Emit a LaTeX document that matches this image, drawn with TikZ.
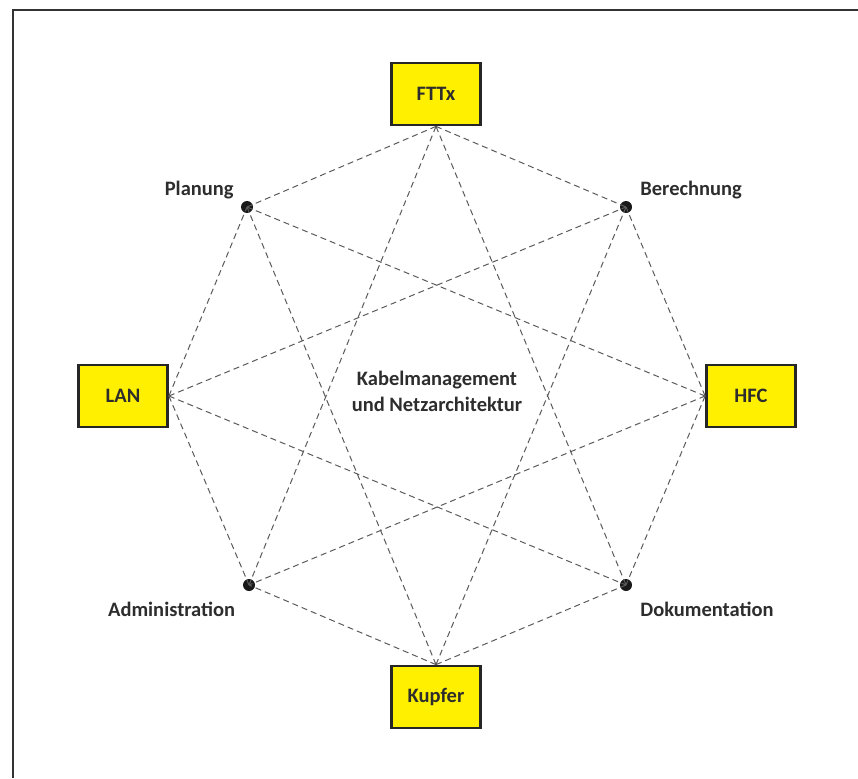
\documentclass[tikz,border=0pt]{standalone}
\usepackage{fontspec}
\setmainfont{Carlito}
\usepackage{xcolor}
\usepackage{tikz}
\usetikzlibrary{positioning}

\definecolor{boxyellow}{RGB}{255,240,0}
\definecolor{txtgray}{RGB}{45,45,45}
\definecolor{linegray}{RGB}{90,90,90}

\begin{document}
\begin{tikzpicture}[
  x=1pt, y=-1pt,
  font=\fontsize{20.5}{24}\selectfont\bfseries,
  text=txtgray,
  box/.style={draw=black!85, line width=2.8pt, fill=boxyellow,
              minimum width=89pt, minimum height=62pt, inner sep=0pt},
  dot/.style={circle, fill=black!90, inner sep=0pt, minimum size=12pt},
  lbl/.style={inner sep=1pt},
  link/.style={draw=linegray, line width=1pt, dash pattern=on 6pt off 4pt}
]
\useasboundingbox (0,0) rectangle (858,778);
\draw[line width=1.4pt, black!80] (13,778) -- (13,10) -- (858,10);
\node[box] (fttx)   at (436,94)  {FTTx};
\node[box] (lan)    at (123,396) {LAN};
\node[box] (hfc)    at (751,396) {HFC};
\node[box] (kupfer) at (436,697) {Kupfer};
\node[dot] (plan) at (247,207) {};
\node[dot] (ber)  at (626,207) {};
\node[dot] (adm)  at (249,585) {};
\node[dot] (dok)  at (626,585) {};
\node[lbl, above left=2.3pt and 7.8pt of plan] (planlbl) {Planung};
\node[lbl, above right=2.3pt and 8.8pt of ber] (berlbl) {Berechnung};
\node[lbl, below left=11pt and 8.3pt of adm] (admlbl) {Administration};
\node[lbl, below right=11pt and 8.8pt of dok] (doklbl) {Dokumentation};
\node[align=center] (core) at (437,391)
     {Kabelmanagement\\[2pt]und Netzarchitektur};
\draw[link] (fttx.south) -- (plan.center);
\draw[link] (fttx.south) -- (ber.center);
\draw[link] (fttx.south) -- (adm.center);
\draw[link] (fttx.south) -- (dok.center);
\draw[link] (lan.east) -- (plan.center);
\draw[link] (lan.east) -- (ber.center);
\draw[link] (lan.east) -- (adm.center);
\draw[link] (lan.east) -- (dok.center);
\draw[link] (hfc.west) -- (plan.center);
\draw[link] (hfc.west) -- (ber.center);
\draw[link] (hfc.west) -- (adm.center);
\draw[link] (hfc.west) -- (dok.center);
\draw[link] (kupfer.north) -- (plan.center);
\draw[link] (kupfer.north) -- (ber.center);
\draw[link] (kupfer.north) -- (adm.center);
\draw[link] (kupfer.north) -- (dok.center);
\end{tikzpicture}
\end{document}
